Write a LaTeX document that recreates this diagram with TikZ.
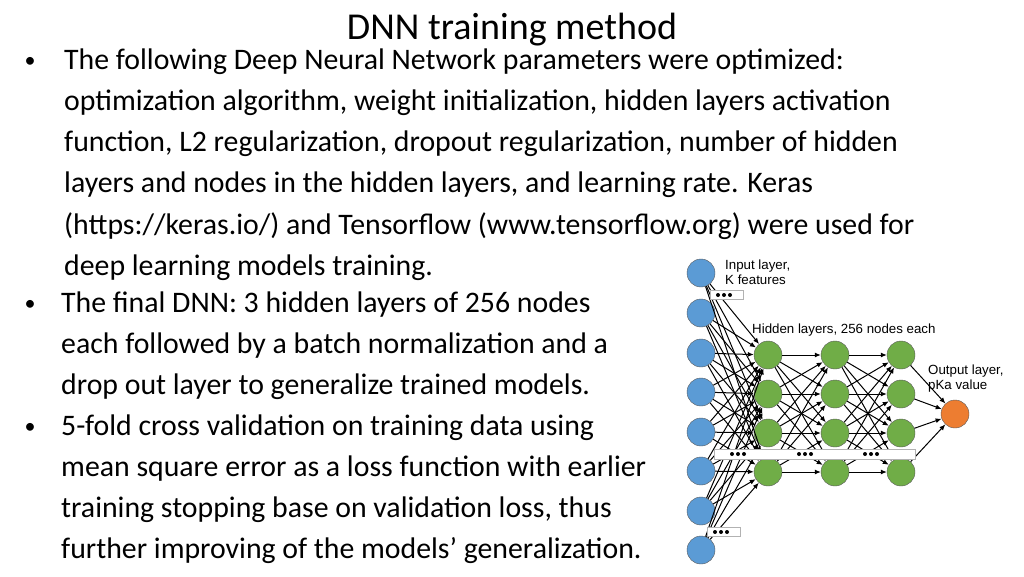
\documentclass[tikz,border=0pt]{standalone}
\usepackage{fontspec}
\setmainfont{Carlito}
\newfontfamily\arial{Liberation Sans}
\usetikzlibrary{arrows.meta}
\definecolor{inb}{HTML}{5B9BD5}
\definecolor{hidg}{HTML}{70AD47}
\definecolor{outo}{HTML}{ED7D31}
\begin{document}
\begin{tikzpicture}[x=1pt,y=-1pt,
  neuron/.style={circle,draw=gray!70!black,line width=0.4pt,minimum size=28pt,inner sep=0pt},
  inn/.style={neuron,fill=inb},
  hid/.style={neuron,fill=hidg},
  outn/.style={neuron,fill=outo},
  edge/.style={-{Latex[length=6pt,width=5pt]},line width=1pt},
  body/.style={anchor=west,font=\fontsize{29.8}{34}\selectfont,inner sep=0pt},
  bul/.style={anchor=center,font=\fontsize{22}{26}\selectfont,inner sep=0pt},
  lbl/.style={font=\arial\fontsize{13.3}{15}\selectfont,inner sep=0pt,align=left},
  dotbox/.style={draw=gray!60,fill=white,line width=0.6pt}]
\useasboundingbox (0,0) rectangle (1024,576);
\node[font=\fontsize{38}{42}\selectfont,inner sep=0pt] (title) at (512,30) {DNN training method};
\node[bul] (b1) at (30,62) {•};
\node[body] (t1) at (64,62) {The following Deep Neural Network parameters were optimized:};
\node[body] (t2) at (64,103) {optimization algorithm, weight initialization, hidden layers activation};
\node[body] (t3) at (64,144) {function, L2 regularization, dropout regularization, number of hidden};
\node[body] (t4) at (64,185) {layers and nodes in the hidden layers, and learning rate. Keras};
\node[body] (t5) at (64,226) {(https://keras.io/) and Tensorflow (www.tensorflow.org) were used for};
\node[body] (t6) at (64,268) {deep learning models training.};
\node[bul] (b2) at (30,305) {•};
\node[body] (u1) at (61,305) {The final DNN: 3 hidden layers of 256 nodes};
\node[body] (u2) at (61,346) {each followed by a batch normalization and a};
\node[body] (u3) at (61,387) {drop out layer to generalize trained models.};
\node[bul] (b3) at (30,428) {•};
\node[body] (v1) at (61,428) {5-fold cross validation on training data using};
\node[body] (v2) at (61,469) {mean square error as a loss function with earlier};
\node[body] (v3) at (61,510) {training stopping base on validation loss, thus};
\node[body] (v4) at (61,551) {further improving of the models’ generalization.};
% network
\foreach \i/\y in {1/273,2/313,3/353,4/392,5/432,6/471,7/511,8/550}
  \node[inn] (i\i) at (701,\y) {};
\foreach \l/\x in {1/768,2/835,3/901}
  \foreach \j/\y in {1/355,2/394,3/433,4/472}
    \node[hid] (h\l\j) at (\x,\y) {};
\node[outn] (o) at (955,414) {};
\foreach \i in {1,...,8}\foreach \j in {1,...,4} \draw[edge] (i\i) -- (h1\j);
\foreach \a/\b in {1/2,2/3}\foreach \i in {1,...,4}\foreach \j in {1,...,4} \draw[edge] (h\a\i) -- (h\b\j);
\foreach \j in {1,...,4} \draw[edge] (h3\j) -- (o);
\node[dotbox,minimum width=33pt,minimum height=9pt,inner sep=0pt] (d1) at (727,295) {};
\node[dotbox,minimum width=33pt,minimum height=9pt,inner sep=0pt] (d2) at (724,532) {};
\node[dotbox,minimum width=201pt,minimum height=10pt,inner sep=0pt] (d3) at (815,454) {};
\foreach \x/\y in {718/295,715/532,732/454,799/454,865/454}
  \foreach \k in {0,6,12} \fill (\x+\k,\y) circle (2pt);
\node[lbl,anchor=north west] (l1) at (725,260) {Input layer,\\ K features};
\node[lbl,anchor=west] (l2) at (752,330) {Hidden layers, 256 nodes each};
\node[lbl,anchor=north west] (l3) at (928,365) {Output layer,\\ pKa value};
\end{tikzpicture}
\end{document}
